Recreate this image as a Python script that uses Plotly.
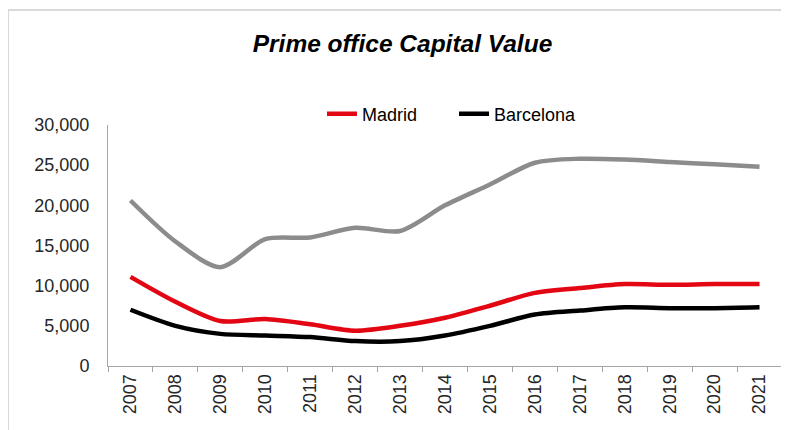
import plotly.graph_objects as go

years = [str(y) for y in range(2007, 2022)]
other = [20600, 15500, 12300, 15800, 16000, 17200, 16800, 20000, 22600, 25300, 25800, 25700, 25400, 25100, 24800]
madrid = [11100, 8000, 5600, 5850, 5200, 4400, 5000, 6000, 7500, 9100, 9700, 10200, 10100, 10200, 10200]
barcelona = [7000, 5000, 4000, 3800, 3600, 3100, 3100, 3800, 5000, 6400, 6900, 7300, 7200, 7200, 7300]

W, H = 789, 430
L, R, T, B = 100, 15, 117, 72
pw, ph = W - L - R, H - T - B
FONT = "Liberation Sans, Arial"

def px(x):
    return (x - L) / pw

def py(y):
    return (H - B - y) / ph

fig = go.Figure()
fig.add_trace(go.Scatter(x=years, y=other, mode="lines", showlegend=False,
                         line=dict(color="#8c8c8c", width=4.5, shape="spline", smoothing=0.8)))
fig.add_trace(go.Scatter(x=years, y=madrid, mode="lines", name="Madrid",
                         line=dict(color="#e30613", width=4.5, shape="spline", smoothing=0.8)))
fig.add_trace(go.Scatter(x=years, y=barcelona, mode="lines", name="Barcelona",
                         line=dict(color="#000000", width=4.5, shape="spline", smoothing=0.8)))

fig.update_layout(
    width=W, height=H,
    margin=dict(l=L, r=R, t=T, b=B, autoexpand=False),
    paper_bgcolor="white", plot_bgcolor="white",
    font=dict(family=FONT, size=18, color="#262626"),
    title=dict(text="<b><i>Prime office Capital Value</i></b>", x=0.5, xanchor="center",
               y=1 - 35 / H, yanchor="middle", font=dict(size=24.5, color="#000000")),
    legend=dict(orientation="h", x=px(314), xanchor="left", y=py(106), yanchor="middle",
                font=dict(size=18, color="#000000"), entrywidth=87, tracegroupgap=0,
                bgcolor="rgba(0,0,0,0)"),
    xaxis=dict(type="category", showgrid=False, showline=True, linecolor="#a6a6a6", linewidth=1,
               ticks="outside", ticklen=5, tickcolor="#a6a6a6", tickangle=-90,
               tickson="boundaries", range=[-0.5, 14.5], fixedrange=True, automargin=False,
               tickfont=dict(size=18, color="#262626")),
    yaxis=dict(range=[0, 30000], dtick=5000, tickformat=",", showgrid=False, showline=True,
               linecolor="#a6a6a6", linewidth=1, ticks="", ticklabelstandoff=14, automargin=False,
               tickfont=dict(size=18, color="#262626"), zeroline=False),
    shapes=[dict(type="rect", xref="paper", yref="paper", x0=px(0), x1=px(800),
                 y0=py(440), y1=py(2), line=dict(color="#d9d9d9", width=2),
                 fillcolor="rgba(0,0,0,0)", layer="below")],
)

fig.write_html("out.html")
